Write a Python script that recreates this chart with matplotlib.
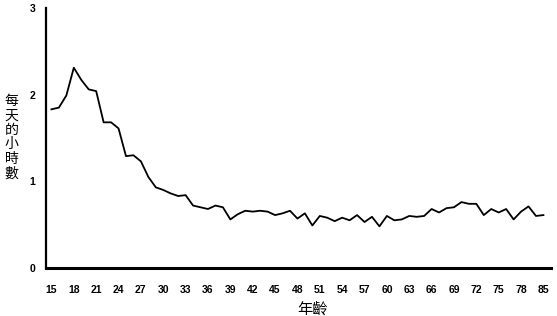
import matplotlib.pyplot as plt

plt.rcParams['font.family'] = ['Noto Sans CJK TC', 'DejaVu Sans']

# ages 15..81 (last tick labelled "85")
ages = list(range(15, 82))
hours = [1.83, 1.85, 1.99, 2.31, 2.17, 2.06, 2.04, 1.68, 1.68, 1.61,
         1.29, 1.30, 1.23, 1.05, 0.93, 0.90, 0.86, 0.83, 0.84, 0.72,
         0.70, 0.68, 0.72, 0.70, 0.56, 0.62, 0.66, 0.65, 0.66, 0.65,
         0.61, 0.63, 0.66, 0.57, 0.63, 0.49, 0.60, 0.58, 0.54, 0.58,
         0.55, 0.61, 0.53, 0.59, 0.48, 0.60, 0.55, 0.56, 0.60, 0.59,
         0.60, 0.68, 0.64, 0.69, 0.70, 0.76, 0.74, 0.74, 0.61, 0.68,
         0.64, 0.68, 0.56, 0.65, 0.71, 0.60, 0.61]
tick_pos = list(range(15, 79, 3)) + [81]
tick_labels = [str(a) for a in range(15, 79, 3)] + ['85']
y_ticks = [0, 1, 2, 3]

fig = plt.figure(figsize=(5.57, 3.16), dpi=100)
ax = fig.add_axes([0.083, 0.152, 0.906, 0.823])

ax.plot(ages, hours, color='black', lw=1.3)

ax.set_xlim(14.3, 82)
ax.set_ylim(0, 3)
ax.set_xticks(tick_pos)
ax.set_xticklabels(tick_labels)
ax.set_yticks(y_ticks)
ax.tick_params(length=0, labelsize=7.5)
ax.tick_params(axis='x', pad=12)
ax.tick_params(axis='y', pad=8)
for lab in ax.get_xticklabels() + ax.get_yticklabels():
    lab.set_family(['Liberation Sans', 'DejaVu Sans'])
    lab.set_fontweight('bold')

for s in ['top', 'right']:
    ax.spines[s].set_visible(False)
ax.spines['left'].set_linewidth(1.6)
ax.spines['bottom'].set_linewidth(2.2)

ax.set_xlabel('年齡', fontsize=11)
ax.xaxis.set_label_coords(0.527, -0.125)
fig.text(0.021, 0.566, '\n'.join('每天的小時數'), fontsize=10,
         ha='center', va='center', linespacing=1.05)

fig.savefig('out.png', dpi=100)
